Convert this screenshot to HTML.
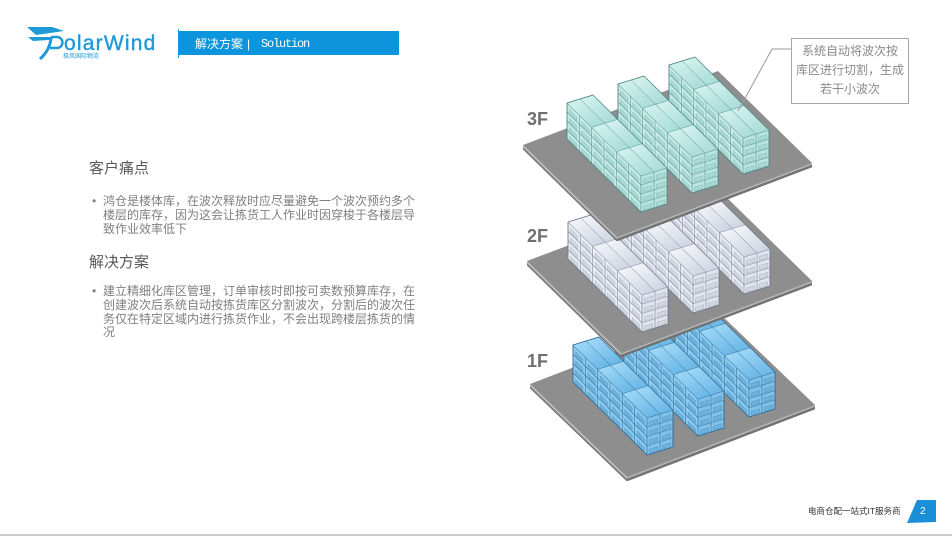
<!DOCTYPE html>
<html><head><meta charset="utf-8">
<style>
html,body{margin:0;padding:0;width:952px;height:537px;overflow:hidden;background:#fff;}
body{position:relative;font-family:"Liberation Sans","Noto Sans CJK SC",sans-serif;}
.abs{position:absolute;white-space:nowrap;}
.bl{font-size:12px;line-height:13.8px;color:#7f7f7f;}
.hd{font-size:15px;line-height:20px;color:#595959;}
</style></head><body>
<svg id="s" width="952" height="537" style="position:absolute;left:0;top:0" xmlns="http://www.w3.org/2000/svg">
<defs>
 <linearGradient id="g3" x1="0" y1="0" x2="1" y2="1"><stop offset="0" stop-color="#d8f4f1"/><stop offset="1" stop-color="#a3d9d5"/></linearGradient>
 <linearGradient id="g2" x1="0" y1="0" x2="1" y2="1"><stop offset="0" stop-color="#f7f8fb"/><stop offset="1" stop-color="#cad1de"/></linearGradient>
 <linearGradient id="g1" x1="0" y1="0" x2="1" y2="1"><stop offset="0" stop-color="#a6dcf9"/><stop offset="1" stop-color="#62b2e3"/></linearGradient>
</defs>
<!-- logo -->
<polygon points="27,27 52,27 64,31 36,35" fill="#1f9ad6"/>
<polygon points="28,37 56,37 49,40 33,41" fill="#1f9ad6"/>
<path d="M51,38 Q50,50 40,59" fill="none" stroke="#1f9ad6" stroke-width="3"/>
<path d="M51,37 L57,37 A5.5,5.5 0 0 1 57,48 L50,48" fill="none" stroke="#1f9ad6" stroke-width="2.4"/>
<text x="64" y="50" font-family="Liberation Sans, sans-serif" font-size="21" letter-spacing="1.2" fill="#1f9ad6" stroke="#1f9ad6" stroke-width="0.4">olarWind</text>
<text x="63" y="58" font-family="Liberation Sans, Noto Sans CJK SC, sans-serif" font-size="6" fill="#1f9ad6">极风国际物流</text>
<!-- header bar -->
<line x1="178.5" y1="29" x2="178.5" y2="58" stroke="#1b95dc" stroke-width="1"/>
<rect x="179" y="31" width="220" height="24" fill="#0c95dd"/>
<g id="fl"></g>
<text x="527" y="125" font-size="18" font-weight="bold" fill="#6f6f6f" font-family="Liberation Sans, sans-serif">3F</text>
<text x="527" y="242" font-size="18" font-weight="bold" fill="#6f6f6f" font-family="Liberation Sans, sans-serif">2F</text>
<text x="527" y="367" font-size="18" font-weight="bold" fill="#6f6f6f" font-family="Liberation Sans, sans-serif">1F</text>
<!-- callout -->
<polyline points="791,49 772,49 738,111" fill="none" stroke="#9a9a9a" stroke-width="1"/>
<rect x="791.5" y="38.5" width="117" height="65" fill="#fff" stroke="#a6a6a6" stroke-width="1"/>
<!-- footer -->
<polygon points="917,500 936,500 936,522 907,523" fill="#1a8fd8"/>
<rect x="0" y="534" width="952" height="2" fill="#cbcbcb"/>
</svg>

<div class="abs" style="left:195px;top:32px;line-height:24px;font-size:12px;color:#fff;font-family:'Liberation Sans','Noto Sans CJK SC',sans-serif;">解决方案</div>
<div class="abs" style="left:247px;top:32px;line-height:24px;font-size:12px;color:#fff;">|</div>
<div class="abs" style="left:261px;top:32px;line-height:24px;font-size:12px;letter-spacing:-1.2px;color:#fff;font-family:'Liberation Mono',monospace;">Solution</div>

<div class="abs hd" style="left:89px;top:159px;">客户痛点</div>
<div class="abs bl" style="left:92px;top:195px;">•</div>
<div class="abs bl" style="left:103px;top:195px;">鸿仓是楼体库，在波次释放时应尽量避免一个波次预约多个<br>楼层的库存，因为这会让拣货工人作业时因穿梭于各楼层导<br>致作业效率低下</div>
<div class="abs hd" style="left:89px;top:253px;">解决方案</div>
<div class="abs bl" style="left:92px;top:285px;">•</div>
<div class="abs bl" style="left:103px;top:285px;">建立精细化库区管理，订单审核时即按可卖数预算库存，在<br>创建波次后系统自动按拣货库区分割波次，分割后的波次任<br>务仅在特定区域内进行拣货作业，不会出现跨楼层拣货的情<br>况</div>

<div class="abs" style="left:792px;top:42px;width:116px;text-align:center;font-size:12px;line-height:19px;color:#8a8a8a;">系统自动将波次按<br>库区进行切割，生成<br>若干小波次</div>

<div class="abs" style="left:808px;top:505px;font-size:8.5px;line-height:12px;color:#333;">电商仓配一站式IT服务商</div>
<div class="abs" style="left:920px;top:505px;font-size:10px;line-height:14px;color:#fff;">2</div>

<script>
const NS='http://www.w3.org/2000/svg';
const G=document.getElementById('fl');
const A=(p,q)=>[p[0]+q[0],p[1]+q[1]];
const M=(q,k)=>[q[0]*k,q[1]*k];
function P(pts,fill,stroke,sw){const e=document.createElementNS(NS,'polygon');e.setAttribute('points',pts.map(q=>q[0].toFixed(2)+','+q[1].toFixed(2)).join(' '));e.setAttribute('fill',fill);if(stroke){e.setAttribute('stroke',stroke);e.setAttribute('stroke-width',sw||0.5);e.setAttribute('stroke-linejoin','round');}G.appendChild(e);}
function Ln(a,b,s,w){const e=document.createElementNS(NS,'line');e.setAttribute('x1',a[0].toFixed(2));e.setAttribute('y1',a[1].toFixed(2));e.setAttribute('x2',b[0].toFixed(2));e.setAttribute('y2',b[1].toFixed(2));e.setAttribute('stroke',s);e.setAttribute('stroke-width',w||0.6);G.appendChild(e);}
function platform(L,Av,Bv,t){
 const Tp=A(L,Av),Bc=A(L,Bv),R=A(Tp,Bv),d=[0,t];
 P([L,Bc,A(Bc,d),A(L,d)],'#808080');
 P([Bc,R,A(R,d),A(Bc,d)],'#747474');
 P([L,Tp,R,Bc],'#8e8e8e');
 Ln(A(L,[0,1]),A(Bc,[0,1]),'#c4c4c4',1.4);
 Ln(A(Bc,[0,1]),A(R,[0,1]),'#b8b8b8',1.4);
 Ln(A(L,d),A(Bc,d),'#6a6a6a',0.6);
 Ln(A(Bc,d),A(R,d),'#6a6a6a',0.6);
}
function shelf(T,W,Lv,H,c){
 const d=[0,H],T2=A(T,W),T3=A(T2,Lv),T4=A(T,Lv);
 const nl=4,dh=H/nl;
 P([T,T4,A(T4,d),A(T,d)],c.side);
 const nc=6,dl=M(Lv,1/nc);
 for(let i=0;i<nc;i++)for(let j=0;j<nl;j++){
   const p=A(A(T,M(Lv,i/nc)),[0,dh*j]);
   const a=A(p,A(M(dl,0.2),[0,dh*0.45])),b=A(p,A(M(dl,0.8),[0,dh*0.45]));
   P([a,b,A(b,[0,dh*0.42]),A(a,[0,dh*0.42])],c.bin,c.line,0.25);
 }
 for(let i=0;i<=nc;i++){const p=A(T,M(Lv,i/nc));Ln(p,A(p,d),c.line,0.6);}
 for(let j=0;j<=nl;j++){const p=A(T,[0,dh*j]);Ln(p,A(p,Lv),c.line,0.6);}
 P([T4,T3,A(T3,d),A(T4,d)],c.front);
 const dw=M(W,1/2);
 for(let i=0;i<2;i++)for(let j=0;j<nl;j++){
   const p=A(A(T4,M(W,i/2)),[0,dh*j]);
   const a=A(p,A(M(dw,0.18),[0,dh*0.45])),b=A(p,A(M(dw,0.82),[0,dh*0.45]));
   P([a,b,A(b,[0,dh*0.42]),A(a,[0,dh*0.42])],c.bin,c.line,0.25);
 }
 for(let i=0;i<=2;i++){const p=A(T4,M(W,i/2));Ln(p,A(p,d),c.line,0.6);}
 for(let j=0;j<=nl;j++){const p=A(T4,[0,dh*j]);Ln(p,A(p,W),c.line,0.6);}
 for(let k=0;k<3;k++)for(let m=0;m<2;m++){
   const p=A(A(T,M(Lv,k/3)),M(W,m/2));
   P([p,A(p,dw),A(A(p,dw),M(Lv,1/3)),A(p,M(Lv,1/3))],'url(#'+c.g+')',c.line,0.45);
 }
 P([T,T2,T3,A(T3,d),A(T4,d),A(T,d)],'none',c.edge,0.7);
}
const cf={
 f1:{side:'#8ccaef',front:'#80c1ea',bin:'#6db2de',line:'#34739e',edge:'#2a6690',g:'g1'},
 f2:{side:'#e9ecf2',front:'#e0e4ec',bin:'#d2d7e2',line:'#8089a0',edge:'#6b7488',g:'g2'},
 f3:{side:'#c6eae6',front:'#b9e3df',bin:'#a8dad6',line:'#5a9693',edge:'#47807e',g:'g3'}
};
function floor(L,Av,Bv,T1,H,c){
 platform(L,Av,Bv,4);
 const W=[26,-8],Lv=[74,73],step=[51,-19];
 for(let r=2;r>=0;r--) shelf(A(T1,M(step,r)),W,Lv,H,c);
}
floor([530,384],[188,-72],[97,93],[573,345],37,cf.f1);
floor([527,261],[191,-72],[94,92],[568,222],37,cf.f2);
floor([523,145],[195,-74],[94,92],[567,103],36,cf.f3);
</script>
</body></html>
